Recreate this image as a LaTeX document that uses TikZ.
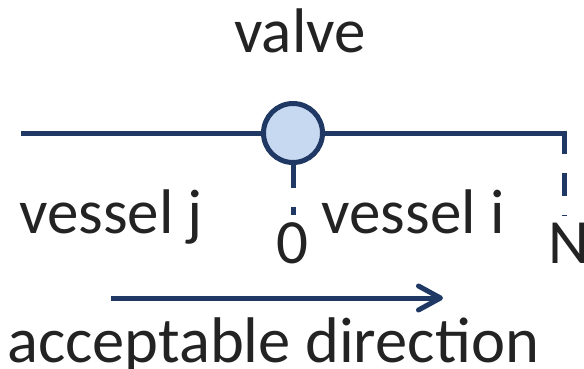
\documentclass[tikz,border=0pt]{standalone}
\usepackage{fontspec}
\setmainfont{Carlito}
\usetikzlibrary{arrows.meta}
\definecolor{navy}{HTML}{1F3864}
\definecolor{valvefill}{HTML}{C6D9F0}
\definecolor{txt}{HTML}{232323}
\begin{document}
\begin{tikzpicture}[x=1pt,y=-1pt,
  pipe/.style={draw=navy,line width=5pt},
  dashpipe/.style={draw=navy,line width=5pt,dash pattern=on 23pt off 19pt},
  lbl/.style={text=txt,inner sep=0pt,anchor=base,font=\fontsize{63}{70}\selectfont}]
\useasboundingbox (0,0) rectangle (584,369);
% valve
\node[circle,draw=navy,fill=valvefill,line width=5pt,minimum size=59pt,inner sep=0pt] (v) at (293,133) {};
\coordinate (left) at (21,133);
\coordinate (corner) at (566.5,133);
\coordinate (ntop) at (564,130.5);
\coordinate (nbot) at (564,215);
\coordinate (zbot) at (293,215);
\draw[pipe] (left) -- (v.west);
\draw[pipe] (v.east) -- (corner);
\draw[dashpipe] (ntop) -- (nbot);
\draw[dashpipe] (v.south) -- (zbot);
% texts
\node[lbl] (valve) at (300,53) {valve};
\node[lbl] (vj) at (111,233) {vessel j};
\node[lbl] (vi) at (413,233) {vessel i};
\node[lbl] (zero) at (292,263) {0};
\node[lbl,anchor=base west] (N) at (548,263) {N};
\node[lbl,font=\fontsize{64.5}{70}\selectfont] (dir) at (273,362) {acceptable direction};
% arrow
\coordinate (a1) at (111,298);
\coordinate (a2) at (443,298);
\draw[navy,line width=5pt,-{Straight Barb[length=22pt,width=24pt,line cap=round,line join=round]}] (a1) -- (a2);
\end{tikzpicture}
\end{document}
